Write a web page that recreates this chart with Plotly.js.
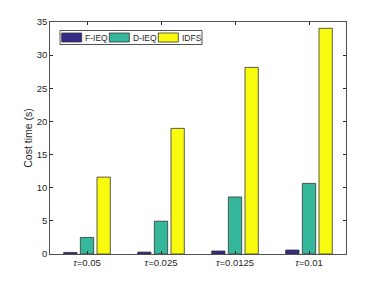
<!DOCTYPE html>
<html><head><meta charset="utf-8">
<script src="https://cdn.plot.ly/plotly-3.0.1.min.js"></script>
<style>html,body{margin:0;padding:0;background:#fff}#c{width:382px;height:286px}</style>
</head><body><div id="c"></div>
<script>
const categories = ["<i>τ</i>=0.05", "<i>τ</i>=0.025", "<i>τ</i>=0.0125", "<i>τ</i>=0.01"];
const seriesNames = ["F-IEQ", "D-IEQ", "IDFS"];
const fieq = [0.24, 0.29, 0.45, 0.6];
const dieq = [2.5, 4.95, 8.6, 10.65];
const idfs = [11.6, 18.95, 28.15, 34.05];
const colors = ["#352a87", "#35b79b", "#f9fb0e"];
const vals = [fieq, dieq, idfs];
const idx = [0, 1, 2, 3];
const traces = vals.map((v, i) => ({
  type: "bar", x: idx, y: v, name: seriesNames[i], showlegend: false,
  marker: {color: colors[i], line: {color: "#333333", width: 0.8}}
}));
// custom MATLAB-style legend (pixel layout -> paper coords)
const L = 50, R = 346, T = 22, B = 254;
const px = x => (x - L) / (R - L);
const py = y => (B - y) / (B - T);
const swatchX = [61.7, 109.3, 158.3];
const shapes = [{type: "rect", xref: "paper", yref: "paper", x0: px(60), x1: px(202), y0: py(44.5), y1: py(30.5),
  fillcolor: "#fff", line: {color: "#262626", width: 0.8}, layer: "above"}];
const annotations = [];
seriesNames.forEach((n, i) => {
  shapes.push({type: "rect", xref: "paper", yref: "paper", x0: px(swatchX[i]), x1: px(swatchX[i] + 20),
    y0: py(42), y1: py(33), fillcolor: colors[i], line: {color: "#333333", width: 0.8}, layer: "above"});
  annotations.push({xref: "paper", yref: "paper", x: px(swatchX[i] + 21.5), y: py(37.7), text: n,
    showarrow: false, xanchor: "left", yanchor: "middle", font: {size: 8.5, color: "#262626"}});
});
const layout = {
  width: 382, height: 286,
  margin: {l: L, r: 382 - R, t: T, b: 286 - B},
  paper_bgcolor: "#fff", plot_bgcolor: "#fff",
  barmode: "group", bargap: 0.325, bargroupgap: 0.2,
  font: {family: "Liberation Sans, Arial, sans-serif", size: 9.5, color: "#262626"},
  showlegend: false, shapes: shapes, annotations: annotations,
  xaxis: {range: [-0.5, 3.5], tickvals: idx, ticktext: categories,
    ticks: "inside", ticklen: 3, tickcolor: "#262626", showline: true, linecolor: "#262626",
    linewidth: 0.8, mirror: "allticks", showgrid: false, zeroline: false, fixedrange: true},
  yaxis: {range: [0, 35], dtick: 5, ticks: "inside", ticklen: 3, tickcolor: "#262626",
    showline: true, linecolor: "#262626", linewidth: 0.8, mirror: "allticks",
    showgrid: false, zeroline: false,
    title: {text: "Cost time (s)", font: {size: 10.5, color: "#262626"}, standoff: 1}}
};
Plotly.newPlot("c", traces, layout, {displayModeBar: false, staticPlot: true});
</script></body></html>
